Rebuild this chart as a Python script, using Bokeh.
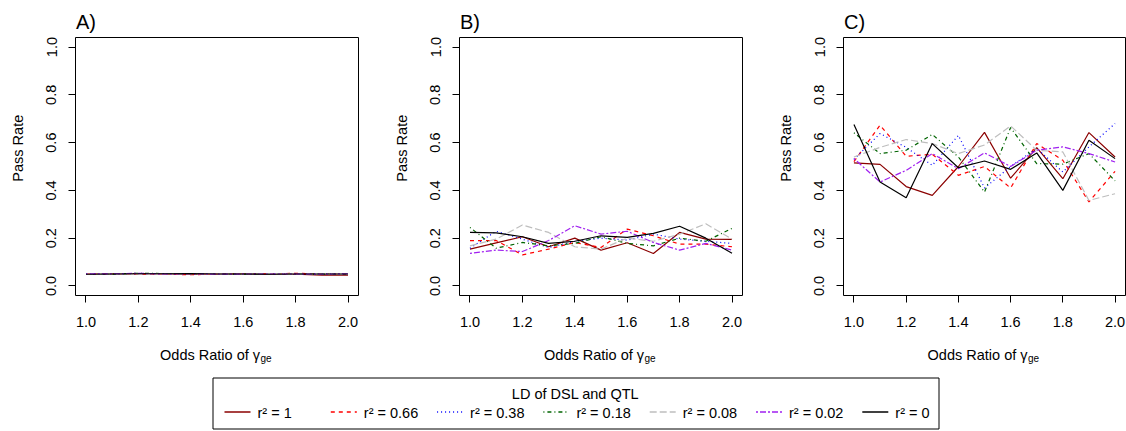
import math
from bokeh.plotting import figure
from bokeh.layouts import row, column
from bokeh.models import Range1d, FixedTicker, NumeralTickFormatter
from bokeh.embed import file_html
from bokeh.resources import INLINE
from bokeh.core.properties import value

# ---------------- data ----------------
odds_ratio = [1.0, 1.1, 1.2, 1.3, 1.4, 1.5, 1.6, 1.7, 1.8, 1.9, 2.0]
x_ticks = [1.0, 1.2, 1.4, 1.6, 1.8, 2.0]
y_ticks = [0.0, 0.2, 0.4, 0.6, 0.8, 1.0]
panel_titles = ["A)", "B)", "C)"]
x_label_main = "Odds Ratio of \u03b3"
x_label_sub = "ge"
y_label = "Pass Rate"
legend_title = "LD of DSL and QTL"
legend_labels = ["r\u00b2 = 1", "r\u00b2 = 0.66", "r\u00b2 = 0.38", "r\u00b2 = 0.18",
                 "r\u00b2 = 0.08", "r\u00b2 = 0.02", "r\u00b2 = 0"]

# Panel A
a_r1   = [0.048, 0.050, 0.052, 0.050, 0.049, 0.050, 0.051, 0.049, 0.049, 0.045, 0.045]
a_r066 = [0.050, 0.051, 0.050, 0.049, 0.047, 0.049, 0.052, 0.050, 0.053, 0.050, 0.048]
a_r038 = [0.051, 0.050, 0.052, 0.051, 0.050, 0.050, 0.050, 0.049, 0.050, 0.051, 0.050]
a_r018 = [0.048, 0.049, 0.053, 0.052, 0.051, 0.050, 0.049, 0.050, 0.050, 0.049, 0.050]
a_r008 = [0.049, 0.050, 0.051, 0.050, 0.052, 0.050, 0.050, 0.051, 0.049, 0.050, 0.049]
a_r002 = [0.050, 0.051, 0.053, 0.050, 0.052, 0.049, 0.050, 0.050, 0.050, 0.049, 0.051]
a_r0   = [0.049, 0.050, 0.051, 0.051, 0.052, 0.050, 0.050, 0.049, 0.050, 0.050, 0.050]

# Panel B
b_r1   = [0.154, 0.180, 0.206, 0.164, 0.200, 0.150, 0.181, 0.136, 0.224, 0.196, 0.195]
b_r066 = [0.190, 0.190, 0.130, 0.154, 0.182, 0.161, 0.238, 0.210, 0.175, 0.175, 0.164]
b_r038 = [0.158, 0.229, 0.196, 0.161, 0.187, 0.200, 0.192, 0.217, 0.196, 0.187, 0.178]
b_r018 = [0.245, 0.158, 0.182, 0.168, 0.178, 0.206, 0.178, 0.168, 0.200, 0.187, 0.241]
b_r008 = [0.168, 0.196, 0.255, 0.224, 0.164, 0.154, 0.200, 0.187, 0.217, 0.260, 0.196]
b_r002 = [0.136, 0.150, 0.144, 0.190, 0.252, 0.217, 0.229, 0.182, 0.150, 0.178, 0.150]
b_r0   = [0.224, 0.222, 0.206, 0.178, 0.187, 0.210, 0.203, 0.220, 0.250, 0.200, 0.137]

# Panel C
c_r1   = [0.515, 0.509, 0.416, 0.379, 0.500, 0.643, 0.451, 0.579, 0.449, 0.642, 0.540]
c_r066 = [0.520, 0.673, 0.543, 0.551, 0.463, 0.500, 0.410, 0.596, 0.526, 0.352, 0.480]
c_r038 = [0.530, 0.638, 0.580, 0.505, 0.630, 0.410, 0.500, 0.576, 0.477, 0.582, 0.680]
c_r018 = [0.641, 0.554, 0.568, 0.634, 0.540, 0.393, 0.663, 0.512, 0.510, 0.554, 0.440]
c_r008 = [0.540, 0.580, 0.613, 0.596, 0.554, 0.590, 0.670, 0.568, 0.561, 0.358, 0.386]
c_r002 = [0.533, 0.435, 0.484, 0.554, 0.491, 0.557, 0.500, 0.568, 0.582, 0.554, 0.519]
c_r0   = [0.676, 0.435, 0.369, 0.596, 0.495, 0.523, 0.488, 0.557, 0.400, 0.610, 0.533]

panels = [
    [a_r1, a_r066, a_r038, a_r018, a_r008, a_r002, a_r0],
    [b_r1, b_r066, b_r038, b_r018, b_r008, b_r002, b_r0],
    [c_r1, c_r066, c_r038, c_r018, c_r008, c_r002, c_r0],
]

# ---------------- styles / layout ----------------
FONT = "Liberation Sans"
colors = ["#8B0000", "#FF0000", "#0000FF", "#006400", "#BEBEBE", "#A020F0", "#000000"]
dashes = ["solid", "4 4", "1 3", "1 3 4 3", "7 3", "2 2 6 2", "solid"]
LW = 1.2
FS = "14.5px"
TOTAL_W = 1126
HEAD_H = 36
PANEL_H = 303
FOOT_H = 92
FRAME_TOP = 1
FRAME_H = 258
strip_w = [35, 27, 27]          # narrow strips holding the "Pass Rate" label
panel_w = [357, 357, 323]       # figures holding the axes
border_l = [40, 40, 40]
border_r = [34, 34, 1]


def blank(width, height):
    f = figure(width=width, height=height, x_range=Range1d(0, width), y_range=Range1d(height, 0),
               output_backend="svg", toolbar_location=None,
               x_axis_location=None, y_axis_location=None, min_border=0)
    f.grid.visible = False
    f.outline_line_color = None
    f.background_fill_color = "white"
    f.border_fill_color = "white"
    return f


def make_panel(series, width, bl, br):
    p = figure(width=width, height=PANEL_H,
               x_range=Range1d(0.96, 2.04), y_range=Range1d(-0.04, 1.04),
               output_backend="svg", toolbar_location=None,
               min_border_left=bl, min_border_right=br,
               min_border_top=FRAME_TOP, min_border_bottom=PANEL_H - FRAME_TOP - FRAME_H)
    p.grid.visible = False
    p.outline_line_color = "black"
    p.outline_line_width = 1
    p.outline_line_alpha = 1
    p.background_fill_color = "white"
    p.border_fill_color = "white"
    for ax in (p.xaxis[0], p.yaxis[0]):
        ax.axis_line_color = None
        ax.major_tick_out = 7
        ax.major_tick_in = 0
        ax.major_tick_line_color = "black"
        ax.minor_tick_line_color = None
        ax.major_label_text_font = FONT
        ax.major_label_text_font_size = FS
        ax.major_label_text_color = "black"
        ax.formatter = NumeralTickFormatter(format="0.0")
    p.xaxis.ticker = FixedTicker(ticks=x_ticks)
    p.yaxis.ticker = FixedTicker(ticks=y_ticks)
    p.xaxis.major_label_standoff = 14
    p.yaxis.major_label_standoff = 12
    p.yaxis.major_label_orientation = "vertical"

    for vals, c, d in zip(series, colors, dashes):
        p.line(odds_ratio, vals, line_color=c, line_dash=d, line_width=LW)
    return p


def make_strip(width, frame_left_in_page, strip_left_in_page):
    s = blank(width, PANEL_H)
    cx = (frame_left_in_page - 58) - strip_left_in_page
    s.text(x=[cx], y=[FRAME_TOP + FRAME_H / 2], text=[y_label], angle=math.pi / 2,
           text_font=value(FONT), text_font_size=FS, text_align="center",
           text_baseline="middle", text_color="black")
    return s


# frame geometry (screen pixels)
frame_left, strip_left = [], []
acc = 0
for sw, w, bl in zip(strip_w, panel_w, border_l):
    strip_left.append(acc)
    frame_left.append(acc + sw + bl)
    acc += sw + w
frame_w = [w - bl - br for w, bl, br in zip(panel_w, border_l, border_r)]
frame_center = [fl + fw / 2 for fl, fw in zip(frame_left, frame_w)]

mid = []
for series, sw, w, bl, br, fl, sl in zip(panels, strip_w, panel_w, border_l, border_r,
                                         frame_left, strip_left):
    mid.append(make_strip(sw, fl, sl))
    mid.append(make_panel(series, w, bl, br))

# ---------------- header (panel letters) ----------------
head = blank(TOTAL_W, HEAD_H)
head.text(x=[fl + 0.5 for fl in frame_left], y=[21.5] * 3, text=panel_titles,
          text_font=value(FONT), text_font_size="20px", text_align="left",
          text_baseline="alphabetic", text_color="black")

# ---------------- footer (x labels + legend) ----------------
foot = blank(TOTAL_W, FOOT_H)
foot.text(x=[c + 43 for c in frame_center], y=[15] * 3, text=[x_label_main] * 3,
          text_font=value(FONT), text_font_size=FS, text_align="right",
          text_baseline="alphabetic", text_color="black")
foot.text(x=[c + 43.5 for c in frame_center], y=[19] * 3, text=[x_label_sub] * 3,
          text_font=value(FONT), text_font_size="10px", text_align="left",
          text_baseline="alphabetic", text_color="black")

foot.quad(left=[212.5], right=[938.5], top=[38.5], bottom=[89.5],
          fill_color=None, line_color="black", line_width=1)
foot.text(x=[575], y=[54], text=[legend_title], text_font=value(FONT),
          text_font_size=FS, text_align="center", text_baseline="middle", text_color="black")
start0, step, seg, gap = 224, 106.3, 26, 33
for i, (lab, c, d) in enumerate(zip(legend_labels, colors, dashes)):
    x0 = start0 + i * step
    foot.line([x0, x0 + seg], [72.5, 72.5], line_color=c, line_dash=d, line_width=1.5)
    foot.text(x=[x0 + gap], y=[73], text=[lab], text_font=value(FONT),
              text_font_size=FS, text_align="left", text_baseline="middle", text_color="black")

layout = column(head, row(*mid), foot)
open("out.html", "w").write(file_html(layout, INLINE))
